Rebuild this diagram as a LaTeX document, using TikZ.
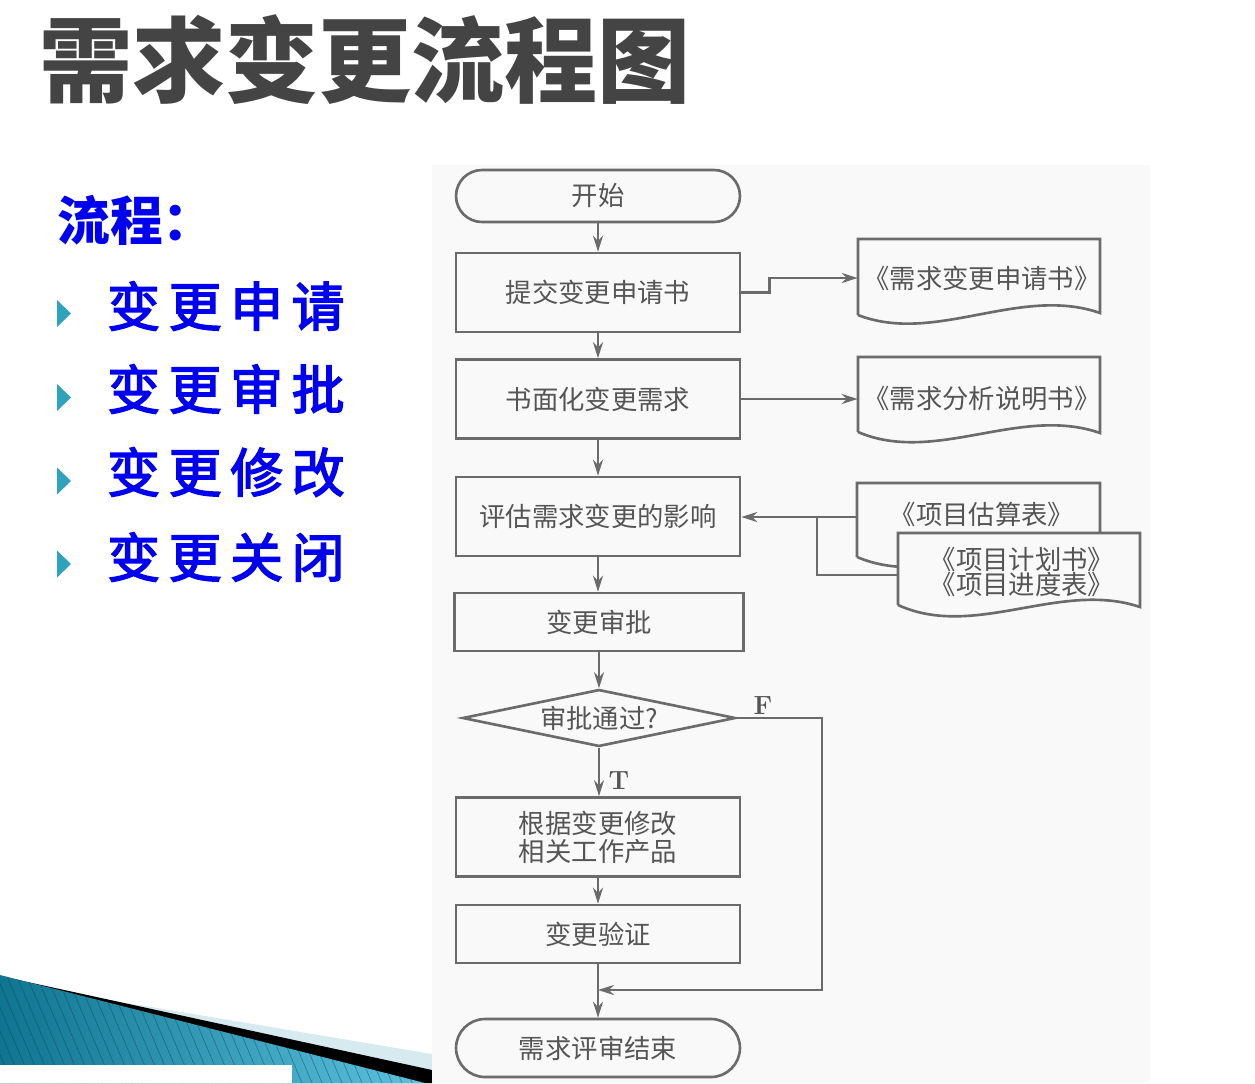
\documentclass[tikz,border=0pt]{standalone}
\usepackage{fontspec}
\newfontfamily\cjk{Noto Sans CJK SC}
\newfontfamily\cjkmid[FakeBold=3]{Noto Sans CJK SC}
\usetikzlibrary{arrows.meta,shapes.geometric,calc}
\definecolor{ln}{HTML}{6B6B6B}
\definecolor{tx}{HTML}{555555}
\definecolor{scanbg}{HTML}{F9F9F9}
\definecolor{ttl}{HTML}{444444}
\definecolor{blu}{HTML}{0000F0}
\definecolor{tri}{HTML}{2FA3BD}
\definecolor{swlight}{HTML}{D6EAF0}
\definecolor{tealA}{HTML}{0F7590}
\definecolor{tealB}{HTML}{5DC3E0}
\begin{document}
\begin{tikzpicture}[x=0.02cm,y=-0.02cm,
  flow/.style={draw=ln, line width=1.5pt, fill=scanbg, text=tx, font=\cjk\fontsize{15}{16}\selectfont, inner sep=0pt, align=center},
  box/.style={flow, rectangle, minimum width=5.68cm, minimum height=1.58cm},
  term/.style={flow, rectangle, minimum width=5.68cm, minimum height=1.04cm, rounded corners=0.52cm},
  decision/.style={flow, diamond, aspect=4.8, minimum width=5.46cm, minimum height=1.14cm},
  arr/.style={draw=ln, line width=1.5pt, -{Stealth[length=0.32cm,width=0.2cm]}},
  conn/.style={draw=ln, line width=1.5pt},
  docline/.style={draw=ln, line width=1.5pt, fill=scanbg},
  doc/.style={text=tx, font=\cjk\fontsize{15}{16}\selectfont, inner sep=0pt, minimum width=4.84cm, align=center},
  lab/.style={text=tx, font=\fontsize{15}{18}\selectfont\bfseries, inner sep=0pt},
  item/.style={anchor=west, text=blu, font=\cjkmid\fontsize{30}{36}\selectfont, inner sep=0pt},
  ttlfont/.style={font=\cjk\bfseries\fontsize{53}{60}\selectfont, inner sep=0pt}
]
\useasboundingbox (0,0) rectangle (1255,1083);
\fill[white] (0,0) rectangle (1255,1083);

% bottom-left swoosh
\fill[swlight] (20,985) -- (432,1054) -- (432,1083) -- (0,1083) -- cycle;
\fill[black] (0,976) -- (432,1070) -- (432,1083) -- (0,1083) -- cycle;
\begin{scope}
  \clip (0,975) -- (425,1083) -- (0,1083) -- cycle;
  \shade[left color=tealA, right color=tealB] (0,960) rectangle (432,1083);
  \foreach \i in {-60,-50,...,430} \draw[tealA!60!black, opacity=0.45, line width=0.4pt] (\i,960) -- ++(55,130);
\end{scope}
\fill[white] (0,1065) rectangle (292,1083);

% title
\node[ttlfont, text=ttl] (ttl) at (365,60) {需求变更流程图};

% left list
\node[item, font=\cjk\bfseries\fontsize{30}{36}\selectfont] (lc) at (57,220) {流程：};
\foreach \y in {313.5,397.5,481,564} \fill[tri] (57,\y-13.5) -- (71,\y) -- (57,\y+13.5) -- cycle;
\node[item] (i1) at (107,306) {变\hspace{5pt}更\hspace{5pt}申\hspace{5pt}请};
\node[item] (i2) at (107,389) {变\hspace{5pt}更\hspace{5pt}审\hspace{5pt}批};
\node[item] (i3) at (107,472) {变\hspace{5pt}更\hspace{5pt}修\hspace{5pt}改};
\node[item] (i4) at (107,557) {变\hspace{5pt}更\hspace{5pt}关\hspace{5pt}闭};

% scanned flowchart background
\fill[scanbg] (432,165) rectangle (1150,1083);

% document outlines
\draw[docline] (858,315) -- (858,239) -- (1100,239) -- (1100,313) .. controls (1020,285) and (935,345) .. (858,315);
\draw[docline] (858,432) -- (858,357) -- (1100,357) -- (1100,433) .. controls (1020,405) and (935,465) .. (858,432);
\draw[docline] (857,557) -- (857,483) -- (1100,483) -- (1100,555) .. controls (1020,530) and (935,590) .. (857,557);
\draw[docline] (898,605) -- (898,533) -- (1140,533) -- (1140,607) .. controls (1060,580) and (975,640) .. (898,605);

% documents
\node[doc] (d1) at (982,278) {\raisebox{0.03cm}{《需求变更申请书》}};
\node[doc] (d2) at (982,399) {\raisebox{0.08cm}{《需求分析说明书》}};
\node[doc] (d3) at (982,517) {\raisebox{0.14cm}{《项目估算表》}};
\node[doc] (d4) at (1022,575) {\raisebox{0.18cm}{\begin{tabular}{@{}c@{}}《项目计划书》\\[-3pt]《项目进度表》\end{tabular}}};

% flow nodes
\node[term] (start) at (598,196) {开始};
\node[box] (b1) at (598,292.5) {提交变更申请书};
\node[box] (b2) at (598,399) {书面化变更需求};
\node[box] (b3) at (598,516.5) {评估需求变更的影响};
\node[box, minimum width=5.78cm, minimum height=1.16cm] (b4) at (599,622) {变更审批};
\node[decision] (dec) at (599,718) {审批通过?};
\node[box] (b5) at (598,837) {根据变更修改\\相关工作产品};
\node[box, minimum height=1.16cm] (b6) at (598,934) {变更验证};
\node[term, minimum height=1.16cm, rounded corners=0.58cm] (stop) at (598,1048) {需求评审结束};

\node[lab] (lf) at (763,706) {F};
\node[lab] (lt) at (619,781) {T};

\coordinate (fr) at (822,990);
\coordinate (j) at (598,990);
\coordinate (br) at (817,575);

% connectors
\draw[arr] (start) -- (b1);
\draw[arr] (b1) -- (b2);
\draw[arr] (b2) -- (b3);
\draw[arr] (b3.south) -- (b3.south |- b4.north);
\draw[arr] (b4.south) -- (b4.south |- dec.north);
\draw[arr] (dec.south) -- (dec.south |- b5.north);
\draw[arr] (b5) -- (b6);
\draw[arr] (b6) -- (stop);
\draw[arr] (dec.east) -| (fr) -- (j);
\draw[arr] (b1.east) -- ++(28,0) |- ([xshift=-0.06cm]d1.west);
\draw[arr] (b2.east) -- ([xshift=-0.06cm]b2.east -| d2.west);
\draw[arr] ([xshift=-0.06cm]d3.west) -- (d3.west -| b3.east);
\draw[conn] (br |- d3.west) -- (br) -- ([xshift=-0.06cm]d4.west);
\end{tikzpicture}
\end{document}
